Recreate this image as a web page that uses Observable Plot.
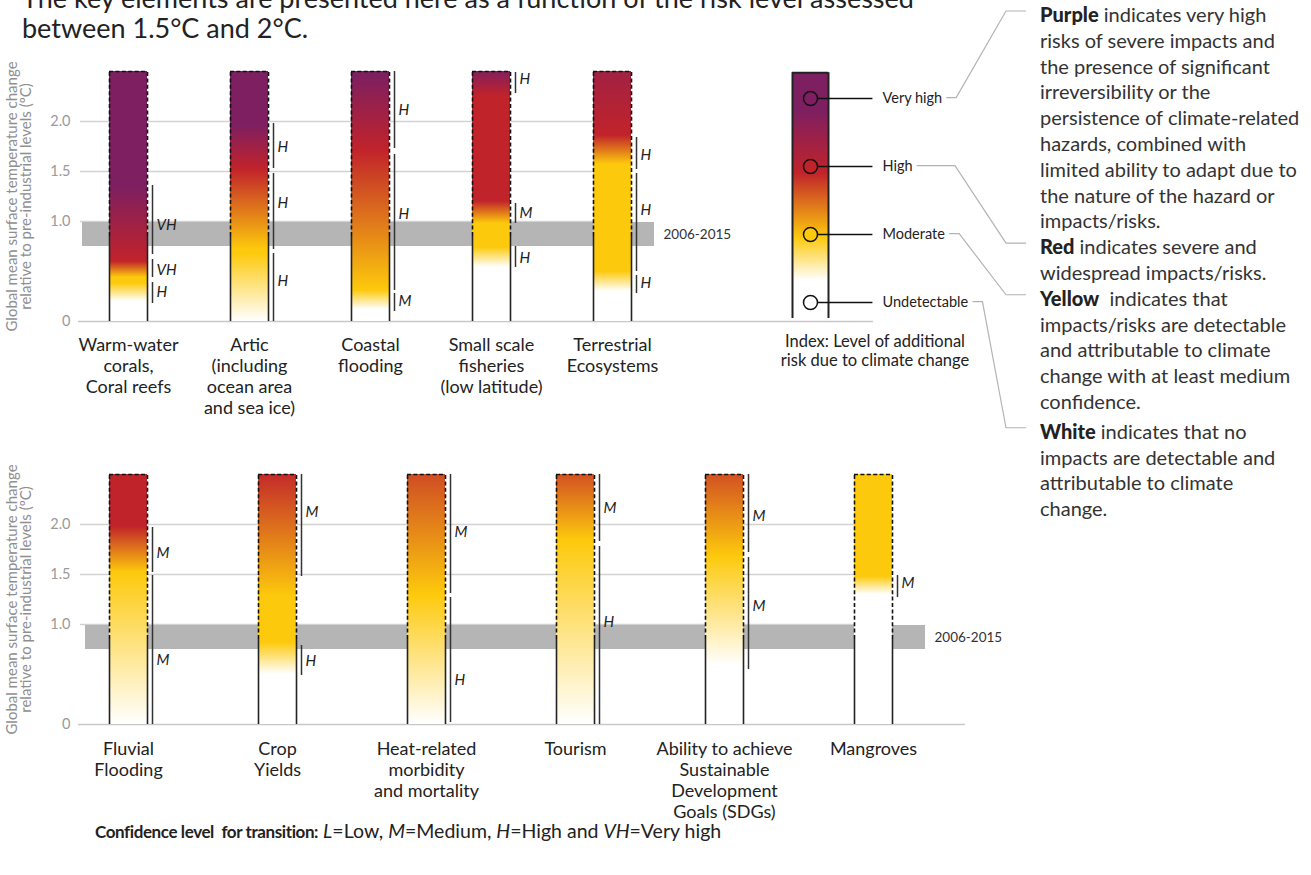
<!DOCTYPE html>
<html>
<head>
<meta charset="utf-8">
<script src="https://cdn.jsdelivr.net/npm/d3@7"></script>
<script src="https://cdn.jsdelivr.net/npm/@observablehq/plot@0.6"></script>
<style>
  html, body { margin: 0; padding: 0; background: #fff; }
  #root { position: relative; width: 1311px; height: 875px; overflow: hidden; font-family: Lato, "Noto Sans", sans-serif; color: #222; }
  .abs { position: absolute; }
  #title { left: 22px; top: -17px; font-size: 27px; line-height: 30px; white-space: nowrap; color: #222; }
  #notes { left: 1040px; top: 2px; font-size: 20px; line-height: 25.8px; white-space: nowrap; color: #333; }
  #notes b { font-weight: 900; color: #222; }
  #indexcap { left: 765px; top: 332px; width: 220px; text-align: center; font-size: 16.5px; line-height: 19px; color: #222; }
  #caption { left: 95px; top: 819px; font-size: 19.5px; white-space: nowrap; color: #222; }
  #caption b { font-weight: 700; font-size: 17px; letter-spacing: -0.4px; }
  svg.plot, svg { background: transparent; }
</style>
</head>
<body>
<div id="root">
  <div id="title" class="abs">The key elements are presented here as a function of the risk level assessed<br>between 1.5°C and 2°C.</div>
  <div id="top" class="abs" style="left:0;top:40px"></div>
  <div id="bottom" class="abs" style="left:0;top:440px"></div>
  <div id="legend" class="abs" style="left:760px;top:40px"></div>
  <div id="indexcap" class="abs">Index: Level of additional<br>risk due to climate change</div>
  <div id="notes" class="abs"><b id="p3">Purple</b> indicates very high<br>risks of severe impacts and<br>the presence of significant<br>irreversibility or the<br>persistence of climate-related<br>hazards, combined with<br>limited ability to adapt due to<br>the nature of the hazard or<br>impacts/risks.<br><b id="p2">Red</b> indicates severe and<br>widespread impacts/risks.<br><b id="p1">Yellow</b>&nbsp; indicates that<br>impacts/risks are detectable<br>and attributable to climate<br>change with at least medium<br>confidence.<div style="margin-top:4px"><b id="p0">White</b> indicates that no<br>impacts are detectable and<br>attributable to climate<br>change.</div></div>
  <div id="caption" class="abs"><b>Confidence level&nbsp; for transition:</b> <i>L</i>=Low, <i>M</i>=Medium, <i>H</i>=High and <i>VH</i>=Very high</div>
  <svg id="connectors" class="abs" style="left:0;top:0;pointer-events:none" width="1311" height="875"></svg>
</div>
<script>
// ---------------- data ----------------
const riskLevels = [0, 1, 2, 3];
const riskColors = ["#ffffff", "#fdc90c", "#c1232a", "#7d1f61"];
const indexLabels = ["Undetectable", "Moderate", "High", "Very high"];

const barTop = 2.5;          // top of projected range (°C)
const dashFrom = 0.85;       // observed / projected split
const period = [0.75, 0.99]; // 2006-2015 band
const periodLabel = "2006-2015";
const yTicks = [0, 1, 1.5, 2];
const yTickLabels = ["0", "1.0", "1.5", "2.0"];
const yTitle = "Global mean surface temperature change\nrelative to pre-industrial levels (ºC)";

// top panel
const topNames = [
  "Warm-water\ncorals,\nCoral reefs",
  "Artic\n(including\nocean area\nand sea ice)",
  "Coastal\nflooding",
  "Small scale\nfisheries\n(low latitude)",
  "Terrestrial\nEcosystems"
];
// gradient stops: [temperature °C, risk level 0..3]
const topStops = [
  [[0.2, 0], [0.38, 1], [0.44, 1], [0.6, 2], [1.35, 3]],
  [[0, 0], [0.68, 1], [0.72, 1], [1.52, 2], [1.97, 3]],
  [[0.12, 0], [0.31, 1], [1.71, 2], [2.47, 3]],
  [[0.54, 0], [0.74, 1], [0.98, 1], [1.2, 2], [2.25, 2], [2.5, 2.9]],
  [[0.3, 0], [0.5, 1], [1.57, 1], [1.86, 2], [2.5, 2.45]]
];
// confidence: [label, from °C, to °C, label at °C]
const topConf = [
  [["H", 0.18, 0.39, 0.29], ["VH", 0.44, 0.62, 0.51], ["VH", 0.67, 1.36, 0.96]],
  [["H", 0.0, 0.68, 0.40], ["H", 0.72, 1.48, 1.18], ["H", 1.53, 1.98, 1.74]],
  [["M", 0.1, 0.28, 0.20], ["H", 0.31, 1.67, 1.07], ["H", 1.73, 2.5, 2.11]],
  [["H", 0.54, 0.75, 0.63], ["M", 0.98, 1.18, 1.08], ["H", 2.28, 2.49, 2.42]],
  [["H", 0.28, 0.46, 0.38], ["H", 0.5, 1.48, 1.11], ["H", 1.52, 1.84, 1.66]]
];

// bottom panel
const bottomNames = [
  "Fluvial\nFlooding",
  "Crop\nYields",
  "Heat-related\nmorbidity\nand mortality",
  "Tourism",
  "Ability to achieve\nSustainable\nDevelopment\nGoals (SDGs)",
  "Mangroves"
];
const bottomStops = [
  [[0, 0], [1.52, 1], [1.98, 2]],
  [[0.5, 0], [0.82, 1], [1.28, 1], [2.5, 1.95]],
  [[0, 0], [1.3, 1], [2.5, 1.75]],
  [[0, 0], [1.84, 1], [2.5, 1.72]],
  [[0.58, 0], [1.68, 1], [2.5, 1.72]],
  [[1.3, 0], [1.48, 1]]
];
const bottomConf = [
  [["M", 0.0, 1.49, 0.64], ["M", 1.52, 1.97, 1.71]],
  [["H", 0.49, 0.79, 0.63], ["M", 1.48, 2.5, 2.12]],
  [["H", 0.02, 1.27, 0.44], ["M", 1.31, 2.5, 1.92]],
  [["H", 0.0, 1.78, 1.02], ["M", 1.83, 2.5, 2.16]],
  [["M", 0.55, 1.67, 1.18], ["M", 1.72, 2.5, 2.08]],
  [["M", 1.27, 1.49, 1.41]]
];

// index legend gradient stops: [position in level units, risk level]
const indexStops = [[0.32, 0], [0.95, 1], [1.9, 2], [2.82, 3]];

// ---------------- helpers ----------------
const ramp = d3.scaleLinear().domain(riskLevels).range(riskColors).interpolate(d3.interpolateRgb);
const FONT = "Lato, 'Noto Sans', sans-serif";

function addGradient(svg, id, stops, lo, hi) {
  let defs = d3.select(svg).select("defs");
  if (defs.empty()) defs = d3.select(svg).insert("defs", ":first-child");
  const g = defs.append("linearGradient").attr("id", id)
    .attr("x1", 0).attr("y1", 1).attr("x2", 0).attr("y2", 0);
  for (const [t, lv] of stops) {
    g.append("stop").attr("offset", (t - lo) / (hi - lo)).attr("stop-color", ramp(lv));
  }
}

function panel(o) {
  const n = o.names.length;
  const step = (o.range[1] - o.range[0]) / n;
  const half = step * (1 - o.pad) / 2;
  const W = 1000, ML = 78;
  const frameRight = W - o.marginRight;
  const bars = o.names.map((name, i) => ({name, i, top: barTop}));
  const conf = o.conf.flatMap((list, i) => list.map(([label, from, to, at]) => ({name: o.names[i], label, from, to, at})));
  const dash = "4,2.4";
  const svg = Plot.plot({
    width: W, height: o.height,
    marginTop: o.marginTop, marginBottom: o.marginBottom, marginLeft: ML, marginRight: o.marginRight,
    style: {background: "transparent", fontFamily: FONT, overflow: "visible"},
    x: {type: "band", domain: o.names, range: o.range, paddingInner: o.pad, paddingOuter: o.pad / 2, align: 0.5, axis: null},
    y: {domain: [0, barTop], axis: null},
    color: {type: "identity"},
    marks: [
      Plot.ruleY(yTicks.filter(d => d > 0), {y: d => d, stroke: "#d2d2d2", strokeWidth: 1.5, insetLeft: 2, insetRight: frameRight - o.gridEnd}),
      Plot.rect([period], {y1: d => d[0], y2: d => d[1], fill: "#b5b5b5", insetLeft: o.bandStart - ML, insetRight: frameRight - o.bandEnd}),
      Plot.ruleY([0], {y: d => d, stroke: "#c8c8c8", strokeWidth: 1.5}),
      Plot.text([periodLabel], {y: () => (period[0] + period[1]) / 2, text: d => d, frameAnchor: "left", dx: o.bandEnd + 9 - ML, textAnchor: "start", fontSize: 13.5, fill: "#333"}),
      Plot.barY(bars, {x: "name", y1: 0, y2: "top", fill: d => `url(#${o.id}${d.i})`}),
      Plot.ruleX(bars, {x: "name", y1: dashFrom, y2: "top", dx: -half, stroke: "#111", strokeWidth: 1.6, strokeDasharray: dash}),
      Plot.ruleX(bars, {x: "name", y1: dashFrom, y2: "top", dx: half, stroke: "#111", strokeWidth: 1.6, strokeDasharray: dash}),
      Plot.tickY(bars, {x: "name", y: "top", stroke: "#111", strokeWidth: 1.6, strokeDasharray: dash}),
      Plot.ruleX(bars, {x: "name", y1: 0, y2: dashFrom, dx: -half, stroke: "#222", strokeWidth: 1.6}),
      Plot.ruleX(bars, {x: "name", y1: 0, y2: dashFrom, dx: half, stroke: "#222", strokeWidth: 1.6}),
      Plot.ruleX(conf, {x: "name", y1: "from", y2: "to", dx: half + 5, stroke: "#333", strokeWidth: 1.5}),
      Plot.text(conf, {x: "name", y: "at", text: "label", dx: half + 9, textAnchor: "start", fontStyle: "italic", fontSize: 15, fill: "#222"}),
      Plot.text(yTicks, {y: d => d, text: (d, i) => yTickLabels[i], frameAnchor: "left", dx: -8, textAnchor: "end", fill: "#9a9a9a", fontSize: 14.5}),
      Plot.text([yTitle], {text: d => d, frameAnchor: "left", dx: -59, rotate: -90, textAnchor: "middle", lineAnchor: "middle", lineHeight: 0.95, fill: "#8f8f8f", fontSize: 15}),
      Plot.text(bars, {x: "name", y: 0, text: "name", dy: o.labelDy, lineAnchor: "top", lineHeight: 1.16, fontSize: 18, fill: "#222"})
    ]
  });
  o.stops.forEach((s, i) => addGradient(svg, o.id + i, s, 0, barTop));
  return svg;
}

// ---------------- panels ----------------
const topSvg = panel({
  id: "gt", names: topNames, stops: topStops, conf: topConf,
  range: [66.25, 673.75], pad: 1 - 38 / 121.5,
  height: 380, marginTop: 31, marginBottom: 99, marginRight: 127,
  gridEnd: 610, bandStart: 82, bandEnd: 654, labelDy: 15
});
document.getElementById("top").appendChild(topSvg);

const bottomSvg = panel({
  id: "gb", names: bottomNames, stops: bottomStops, conf: bottomConf,
  range: [51.75, 948.75], pad: 1 - 38 / 149.5,
  height: 435, marginTop: 34, marginBottom: 151, marginRight: 35,
  gridEnd: 880, bandStart: 85, bandEnd: 925, labelDy: 16
});
document.getElementById("bottom").appendChild(bottomSvg);

// ---------------- index legend ----------------
const levels = riskLevels.map((v, i) => ({v, label: indexLabels[i]}));
const lo = d3.min(riskLevels) - 0.235, hi = d3.max(riskLevels) + 0.38;
const legendSvg = Plot.plot({
  width: 240, height: 300, margin: 0,
  style: {background: "transparent", fontFamily: FONT, overflow: "visible"},
  x: {type: "linear", domain: [0, 1], range: [32, 68], axis: null},
  y: {domain: [0, 3], range: [262, 58], axis: null},
  color: {type: "identity"},
  marks: [
    Plot.rect([{}], {x1: 0, x2: 1, y1: () => lo, y2: () => hi, fill: "url(#gidx)"}),
    Plot.ruleX([0, 1], {x: d => d, y1: lo, y2: hi, stroke: "#222", strokeWidth: 2}),
    Plot.ruleY([hi], {y: d => d, x1: 0, x2: 1, stroke: "#222", strokeWidth: 2}),
    Plot.link(levels, {x1: 0.5, x2: 2.22, y1: "v", y2: "v", stroke: "#111", strokeWidth: 1.5}),
    Plot.dot(levels, {x: 0.5, y: "v", r: 7, fill: d => ramp(d.v), stroke: "#111", strokeWidth: 1.5}),
    Plot.text(levels, {x: 2.5, y: "v", text: "label", textAnchor: "start", fontSize: 14.5, fill: "#222"})
  ]
});
addGradient(legendSvg, "gidx", indexStops, lo, hi);
document.getElementById("legend").appendChild(legendSvg);

// ---------------- connectors (from legend labels to notes) ----------------
function drawConnectors() {
  const root = document.getElementById("root").getBoundingClientRect();
  const texts = Array.from(legendSvg.querySelectorAll("text"));
  const conn = d3.select("#connectors");
  conn.selectAll("*").remove();
  levels.forEach((d, i) => {
    const t = texts[i];
    const p = document.getElementById("p" + d.v);
    if (!t || !p) return;
    const tr = t.getBoundingClientRect();
    const pr = p.getBoundingClientRect();
    const sx = tr.right - root.left + 4, sy = tr.top + tr.height / 2 - root.top;
    const px = pr.left - root.left, py = pr.top + pr.height / 2 - root.top - 3;
    const pts = [[sx, sy], [Math.max(sx + 10, 955), sy], [px - 34, py], [px - 14, py]];
    conn.append("path").attr("d", d3.line()(pts)).attr("fill", "none").attr("stroke", "#b3b3b3").attr("stroke-width", 1.2);
  });
}
drawConnectors();
</script>
</body>
</html>
